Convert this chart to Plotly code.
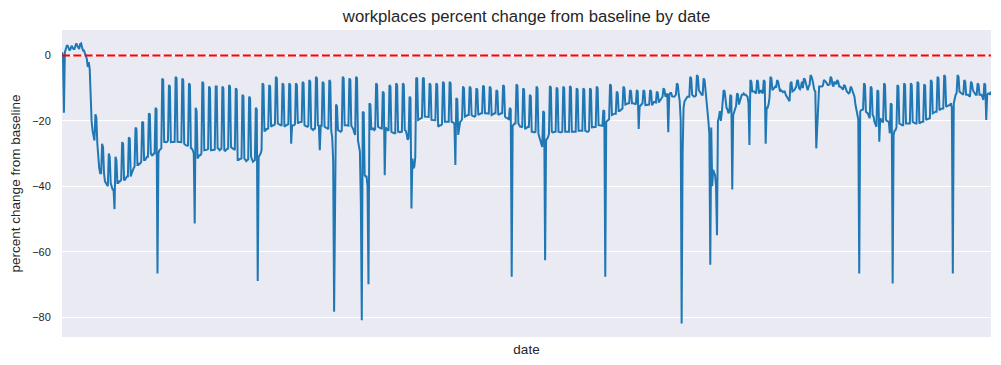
import pandas as pd
import plotly.graph_objects as go

start_date = "2020-02-15"
# each row is one week: Sat, Sun, Mon, Tue, Wed, Thu, Fri
weeks_2020 = [
    [1, 0, -17.5, 1, 2, 3, 3],
    [2, 1.5, 2, 3, 2.5, 2, 2],
    [3, 3.7, 3, 2.5, 2, 3.5, 3.7],
    [2.5, 1.5, 1.5, 0.5, 0, -1, -3.5],
    [-2, -4, -13, -20, -23, -25, -26],
    [-18, -19, -27, -32, -34.5, -36, -36],
    [-27, -28, -36, -38.5, -39, -39.5, -40],
    [-30, -31, -39, -40, -41, -41, -47],
    [-31, -32, -39, -39, -38.5, -38.5, -38],
    [-26.5, -27, -38, -38, -37.5, -37, -37],
    [-25, -25.5, -37, -36, -35, -34.5, -34],
    [-22, -22.5, -33.5, -33.5, -33, -33, -32.5],
    [-20.3, -20.5, -32, -32, -31.5, -31, -31],
    [-17.7, -18, -30, -30.5, -30.5, -30, -30],
    [-16, -16.5, -66.7, -30, -29, -28.5, -28.4],
    [-7, -7.5, -26.4, -26.5, -26.5, -26.4, -26],
    [-9, -9.5, -26.5, -26.5, -26.5, -26.5, -26.4],
    [-6.5, -7, -26.4, -26.4, -26.5, -26.6, -26.5],
    [-7, -7.5, -27, -27.4, -27.5, -27.6, -27.5],
    [-8.5, -9, -28.4, -28.5, -29, -30, -51.4],
    [-16, -17, -31.5, -31, -30.5, -30.5, -30],
    [-8, -8.5, -29, -29, -28.8, -28.8, -28.6],
    [-9.5, -10, -29, -29, -29, -29, -28.8],
    [-9.5, -9.5, -28.4, -28.5, -29, -28.8, -28.5],
    [-9.5, -10, -29, -29.2, -28.8, -28.6, -28.4],
    [-9, -9.5, -28, -28.3, -28.5, -28.5, -29],
    [-10, -10.5, -32, -32, -31.7, -31.5, -31.5],
    [-12, -12.5, -31.5, -32, -32.3, -32, -31.8],
    [-12.6, -13, -31, -32, -32.5, -32.2, -32],
    [-16, -16.5, -69, -31, -30.5, -30, -29],
    [-8.5, -9, -23, -23, -22.5, -22.5, -22.3],
    [-9, -9.5, -21.8, -21.5, -21.3, -21.3, -21],
    [-6.5, -7, -20.8, -21, -21.3, -21.3, -21.3],
    [-8.5, -9, -21.8, -21.5, -21.3, -21, -21],
    [-8.5, -9, -27, -21.5, -21.3, -21.3, -21],
    [-8.5, -9, -20.8, -20.5, -20.3, -20.3, -20.5],
    [-8, -8.5, -21.3, -21.5, -21.8, -21.8, -21.5],
    [-7.5, -8, -22.3, -22.5, -22.8, -22.5, -22.3],
    [-6.5, -7, -21.3, -21.5, -29, -21.5, -21.5],
    [-8, -8.5, -21.8, -22, -22.3, -22.3, -22.5],
    [-7.5, -8, -23, -25, -32, -78.4, -45],
    [-15, -15.5, -22.8, -23, -23.3, -23.3, -23],
    [-6.5, -7, -21.3, -21.3, -21.3, -21.5, -21.5],
    [-7, -7.5, -21.5, -22, -22.5, -23.5, -24.3],
    [-6.5, -7, -26, -28, -29.4, -45, -81],
    [-17.2, -17.5, -36.6, -37, -37, -40, -70],
]
weeks_2021 = [
    [-14.6, -15, -22.8, -22.3, -22.3, -22.8, -22.5],
    [-8.5, -9, -21.8, -22, -22.3, -22.3, -22.3],
    [-11, -11.5, -36.6, -22, -22.5, -22.8, -23],
    [-9, -9.5, -23.3, -23.5, -23.8, -23.8, -23.8],
    [-8.5, -9, -23.3, -23.3, -23.5, -23.3, -23.3],
    [-8.5, -9, -22.8, -23, -24, -25.8, -25.3],
    [-12.6, -13, -46.8, -31.5, -34.5, -34, -31],
    [-6.8, -7, -19.7, -19.5, -19.2, -19.2, -19],
    [-6.8, -7, -18.7, -18.7, -18.7, -18.7, -18.8],
    [-8.5, -9, -19.7, -19.7, -19.7, -19.8, -19.8],
    [-8.5, -9, -21.8, -21.5, -21.3, -21.3, -21],
    [-8, -8.5, -20.3, -20.3, -20.3, -20.3, -20.3],
    [-8, -8.5, -20.3, -20.5, -20.5, -21, -33.5],
    [-13, -13.5, -24.3, -21, -20.3, -20, -19.5],
    [-9.5, -10, -18.7, -18.5, -18.3, -18.2, -18.2],
    [-9.5, -10, -18.2, -18.5, -18.7, -18.7, -18.5],
    [-10, -10.5, -18.2, -18, -17.8, -17.7, -17.7],
    [-9.2, -9.5, -17.7, -17.7, -17.7, -17.8, -17.8],
    [-9.5, -10, -18.2, -18, -17.8, -17.7, -17.7],
    [-10.6, -11, -18.2, -18, -17.8, -17.7, -17.7],
    [-9, -9.5, -18.7, -19, -19.2, -19.2, -19.7],
    [-16, -16.5, -67.7, -21.5, -21, -20.8, -20.8],
    [-8.8, -9.3, -20.8, -21.3, -21.8, -21.8, -22],
    [-10, -10.5, -22.3, -22.3, -22, -21.8, -22],
    [-12, -12.5, -23.3, -23.3, -23.5, -23.5, -23.3],
    [-9.5, -10, -24, -25, -25.9, -26.5, -28],
    [-17, -17.5, -62.6, -25.9, -25.5, -25, -24],
    [-9.3, -9.8, -23.3, -23.5, -23.5, -23.5, -23.3],
    [-9.8, -10.3, -23.3, -23.5, -23.5, -23.5, -23.3],
    [-9.5, -10, -23.3, -23.3, -23.3, -23.3, -23.3],
    [-9.3, -9.8, -23.3, -23.3, -23.3, -23.3, -23.3],
    [-10, -10.5, -23, -23, -23, -23, -23],
    [-10, -10.5, -23, -23.3, -23.3, -23.3, -23],
    [-10, -10.5, -22, -22, -21.8, -21.8, -21.8],
    [-9.5, -10, -21.3, -21.3, -21.3, -21.3, -21.5],
    [-16.7, -17, -67.7, -20.3, -20, -19.8, -19.5],
    [-8.8, -9.3, -18.2, -18, -17.8, -17.8, -17.8],
    [-11, -11.5, -17, -17, -16.7, -16.5, -16.2],
    [-9.5, -10, -15, -14.8, -14.6, -14.6, -14.6],
    [-10.6, -11, -14.6, -14.6, -14.6, -14.8, -15],
    [-10.6, -11, -22.5, -15.6, -15.2, -14.8, -14.6],
    [-10.6, -11, -15.2, -15.2, -15.2, -15, -15],
    [-10.6, -11, -15.2, -14.6, -14.2, -14.2, -14.4],
    [-11, -11.5, -14.4, -14, -13.4, -13, -12.6],
    [-10, -10.5, -12.6, -12, -11.6, -23.5, -12],
    [-11.5, -11.5, -12.5, -12.6, -12.6, -12.4, -12],
    [-8.5, -9, -12, -14, -19.7, -82, -30],
    [-16, -14, -13.6, -13, -12.6, -12.6, -12.6],
    [-6.5, -7, -12, -12.3, -12.6, -12.5, -12.2],
    [-6, -6.5, -10.6, -11.2, -11.6, -12, -12],
    [-7, -7.5, -10.6, -12, -17, -20, -24],
    [-64, -22, -40, -35, -35.6, -36.6, -40],
]
weeks_2022 = [
    [-55, -20, -19, -17, -20, -17.7, -15],
    [-10.6, -11, -15, -16, -16.5, -17.7, -17.2],
    [-12, -12.5, -41, -18.2, -17.2, -16.7, -15.5],
    [-11.6, -12, -15, -14, -13, -12, -12],
    [-11.6, -12, -12, -12.3, -12.6, -14.6, -27.4],
    [-7.5, -8, -11, -11, -11, -11.3, -11.6],
    [-7.5, -8, -11.6, -11, -10.6, -11.2, -11.6],
    [-7.5, -8, -27, -16, -16, -15, -13],
    [-6.5, -7, -10.6, -10.3, -10, -9.5, -9.8],
    [-7.5, -8, -10, -11, -10.6, -11, -11.2],
    [-11, -11, -12, -12.6, -13, -13.5, -14],
    [-8.5, -8, -11, -10.8, -10.6, -10, -9.5],
    [-7.5, -7.8, -10, -10.3, -9.5, -8, -10],
    [-7, -7.3, -8.5, -9.5, -10.6, -9.5, -9],
    [-6, -6.5, -7.5, -9.5, -10.6, -11, -28.4],
    [-22, -12, -9.5, -9.5, -9.5, -9.5, -9.2],
    [-7.5, -7.8, -8, -8.5, -9, -9, -8.8],
    [-6.5, -7, -9, -9.5, -8, -8.5, -8.8],
    [-7.5, -8, -9.5, -9.5, -9.8, -10, -10.5],
    [-9, -9.3, -10.6, -11, -11.3, -11.6, -11.3],
    [-9.5, -10, -11, -11.8, -12.6, -15, -17],
    [-19, -19.5, -66.7, -17.2, -16.7, -16.7, -16.5],
    [-8.5, -9, -17.2, -17.5, -17.7, -18.5, -19.2],
    [-9.5, -10, -18.2, -18.7, -20.3, -21, -21.8],
    [-10.6, -11, -26.4, -19.2, -19.7, -20.3, -20.3],
    [-8.5, -9, -19.7, -20, -20.3, -20.3, -23.8],
    [-14.6, -15, -69.7, -24.3, -23, -22.8, -22],
    [-9, -9.5, -20.8, -21, -21.3, -21.3, -21.3],
    [-8.5, -9, -20.8, -20.8, -20.8, -20.8, -20.8],
    [-8.5, -9, -20.3, -20.5, -20.8, -20.8, -20.8],
    [-8, -8.5, -20.8, -20.5, -20.3, -20.3, -20.3],
    [-8.8, -9.2, -19.7, -19.5, -19.4, -19.2, -19.2],
    [-7.5, -8, -17.7, -17.5, -17.3, -17.2, -17.2],
    [-6.5, -7, -16.7, -16.5, -16.3, -16.2, -16.2],
    [-6, -6.5, -15.7, -15.5, -15.3, -15.2, -15.2],
    [-14.6, -16, -66.7, -14.6, -13, -12, -11.5],
    [-6, -6.5, -11, -11.3, -11.6, -12, -12],
    [-7.5, -8, -12, -12, -12, -12.3, -12.6],
    [-8, -8.5, -10.6, -11, -11.6, -12, -12],
    [-8.5, -9, -12, -12, -12, -12.6, -13.6],
    [-8.5, -9, -19.7, -12, -11.6, -11.6, -12],
]
last_days = [-11]

y_ticks = [0, -20, -40, -60, -80]
title_text = "workplaces percent change from baseline by date"
x_label = "date"
y_label = "percent change from baseline"

values = [v for wk in weeks_2020 + weeks_2021 + weeks_2022 for v in wk] + last_days
dates = pd.date_range(start_date, periods=len(values), freq="D")

fig = go.Figure()
fig.add_trace(go.Scatter(x=dates, y=values, mode="lines",
                         line=dict(color="#1f77b4", width=2), showlegend=False))
fig.add_hline(y=0, line=dict(color="red", width=2, dash="8px,3.3px"), layer="above")

# the page adds an 8px body margin, so the figure is 8px smaller and offsets shifted
W, H = 993, 357
font_family = "Liberation Sans, Arial, sans-serif"
fig.update_layout(
    width=W, height=H,
    margin=dict(l=54, r=10, t=22, b=28),
    plot_bgcolor="#EAEAF2", paper_bgcolor="white",
    font=dict(family=font_family, color="#262626", size=11),
    title=dict(text=title_text, x=0.5, xref="paper", y=1 - 8/H, yref="container",
               yanchor="middle", xanchor="center", font=dict(size=16.7, color="#262626")),
)
fig.update_xaxes(range=[dates[0], dates[-1]], showticklabels=False, showgrid=False,
                 zeroline=False, showline=False, ticks="", automargin=False,
                 title=dict(text=x_label, font=dict(size=13.5), standoff=7))
fig.update_yaxes(range=[-86.1, 7.8], tickvals=y_ticks, showgrid=True, gridcolor="white",
                 gridwidth=1.2, zeroline=False, showline=False, automargin=False,
                 ticks="outside", ticklen=8, tickcolor="rgba(0,0,0,0)",
                 tickfont=dict(size=11),
                 title=dict(text=y_label, font=dict(size=13.5), standoff=10))

fig.write_html("out.html")
